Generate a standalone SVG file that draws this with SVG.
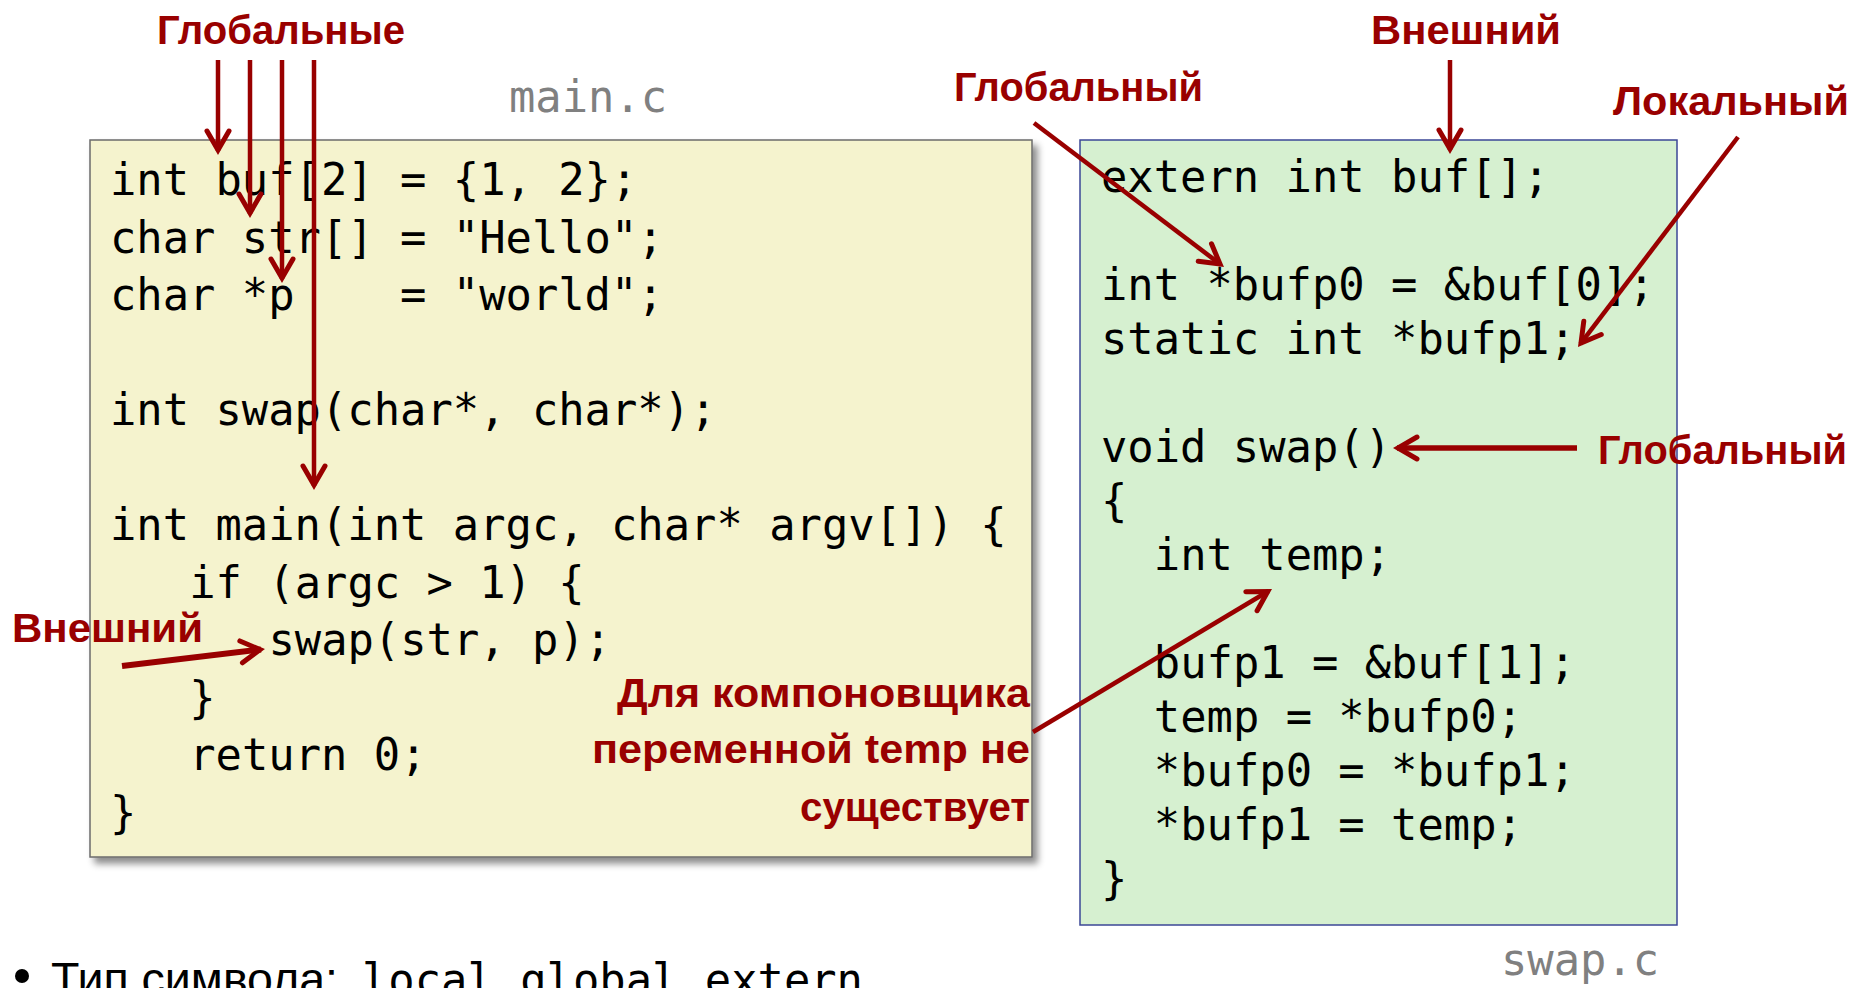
<svg xmlns="http://www.w3.org/2000/svg" width="1854" height="988" viewBox="0 0 1854 988">
<defs>
<style>
.code{font-family:"DejaVu Sans Mono","Liberation Mono",monospace;font-size:43.8px;fill:#000;white-space:pre}
.fname{font-family:"DejaVu Sans Mono","Liberation Mono",monospace;font-size:43.8px;fill:#808080}
.lbl{font-family:"Liberation Sans",Arial,sans-serif;font-weight:bold;font-size:40px;fill:#990000}
.arr{stroke:#990000;stroke-width:4.5;fill:none;marker-end:url(#ah)}
.body{font-family:"Liberation Sans",Arial,sans-serif;font-size:46px;fill:#000}
</style>
<marker id="ah" viewBox="-26 -16 34 32" refX="0" refY="0" markerWidth="34" markerHeight="32" markerUnits="userSpaceOnUse" orient="auto">
<path d="M-20,-11 L-1,0 L-20,11" fill="none" stroke="#990000" stroke-width="5" stroke-linejoin="miter" stroke-linecap="round"/>
</marker>
<filter id="sh" x="-5%" y="-5%" width="115%" height="115%">
<feDropShadow dx="5" dy="6" stdDeviation="3.5" flood-color="#000" flood-opacity="0.45"/>
</filter>
</defs>
<rect width="1854" height="988" fill="#fff"/>

<g id="main-c">
<text class="fname" x="509" y="112">main.c</text>
<rect x="90" y="140" width="942" height="717" fill="#F5F3CE" stroke="#6b6b6b" stroke-width="1.5" filter="url(#sh)"/>
<text class="code" x="110" y="195">int buf[2] = {1, 2};</text>
<text class="code" x="110" y="252.5">char str[] = "Hello";</text>
<text class="code" x="110" y="310" xml:space="preserve">char *p    = "world";</text>
<text class="code" x="110" y="425">int swap(char*, char*);</text>
<text class="code" x="110" y="540">int main(int argc, char* argv[]) {</text>
<text class="code" x="189.2" y="597.5">if (argc &gt; 1) {</text>
<text class="code" x="268.4" y="655">swap(str, p);</text>
<text class="code" x="189.2" y="712.5">}</text>
<text class="code" x="189.2" y="770">return 0;</text>
<text class="code" x="110" y="827.5">}</text>
</g>

<g id="swap-c">
<rect x="1080" y="140" width="597" height="785" fill="#D6F0D0" stroke="#3b4796" stroke-width="1.5"/>
<text class="code" x="1101" y="192">extern int buf[];</text>
<text class="code" x="1101" y="300">int *bufp0 = &amp;buf[0];</text>
<text class="code" x="1101" y="354">static int *bufp1;</text>
<text class="code" x="1101" y="462">void swap()</text>
<text class="code" x="1101" y="516">{</text>
<text class="code" x="1153.8" y="570">int temp;</text>
<text class="code" x="1153.8" y="678">bufp1 = &amp;buf[1];</text>
<text class="code" x="1153.8" y="732">temp = *bufp0;</text>
<text class="code" x="1153.8" y="786">*bufp0 = *bufp1;</text>
<text class="code" x="1153.8" y="840">*bufp1 = temp;</text>
<text class="code" x="1101" y="894">}</text>
<text class="fname" x="1501" y="975">swap.c</text>
</g>

<g id="labels">
<text id="lbl-globals" class="lbl" x="157" y="44" textLength="248" lengthAdjust="spacingAndGlyphs">Глобальные</text>
<text id="lbl-global-bufp0" class="lbl" x="954" y="101" textLength="249" lengthAdjust="spacingAndGlyphs">Глобальный</text>
<text id="lbl-extern-buf" class="lbl" x="1371" y="44" textLength="190" lengthAdjust="spacingAndGlyphs">Внешний</text>
<text id="lbl-local" class="lbl" x="1613" y="115" textLength="236" lengthAdjust="spacingAndGlyphs">Локальный</text>
<text id="lbl-global-swap" class="lbl" x="1598" y="464" textLength="249" lengthAdjust="spacingAndGlyphs">Глобальный</text>
<text id="lbl-extern-swap" class="lbl" x="12" y="642" textLength="191" lengthAdjust="spacingAndGlyphs">Внешний</text>
<g id="lbl-temp">
<text class="lbl" x="617" y="707" textLength="413" lengthAdjust="spacingAndGlyphs">Для компоновщика</text>
<text class="lbl" x="592" y="763" textLength="438" lengthAdjust="spacingAndGlyphs">переменной temp не</text>
<text class="lbl" x="800" y="821" textLength="230" lengthAdjust="spacingAndGlyphs">существует</text>
</g>
</g>

<g id="connectors">
<line class="arr" x1="218" y1="60" x2="218" y2="151"/>
<line class="arr" x1="250" y1="60" x2="250" y2="214"/>
<line class="arr" x1="282" y1="60" x2="282" y2="279"/>
<line class="arr" x1="314" y1="60" x2="314" y2="486"/>
<line class="arr" x1="1034" y1="123" x2="1220.8" y2="264.6"/>
<line class="arr" x1="1450" y1="60" x2="1450" y2="150"/>
<line class="arr" x1="1738" y1="137" x2="1580.4" y2="343.8"/>
<line class="arr" x1="1577" y1="448" x2="1397" y2="448" style="stroke-width:5.5"/>
<line class="arr" x1="122" y1="666" x2="261" y2="649.5" style="stroke-width:6"/>
<line class="arr" x1="1033" y1="732" x2="1268.6" y2="591"/>
</g>

<g id="bullet">
<circle cx="22" cy="976" r="7" fill="#000"/>
<text class="body" x="51" y="995" textLength="287" lengthAdjust="spacingAndGlyphs">Тип символа:</text>
<text class="code" x="362" y="995">local global extern</text>
</g>
</svg>
